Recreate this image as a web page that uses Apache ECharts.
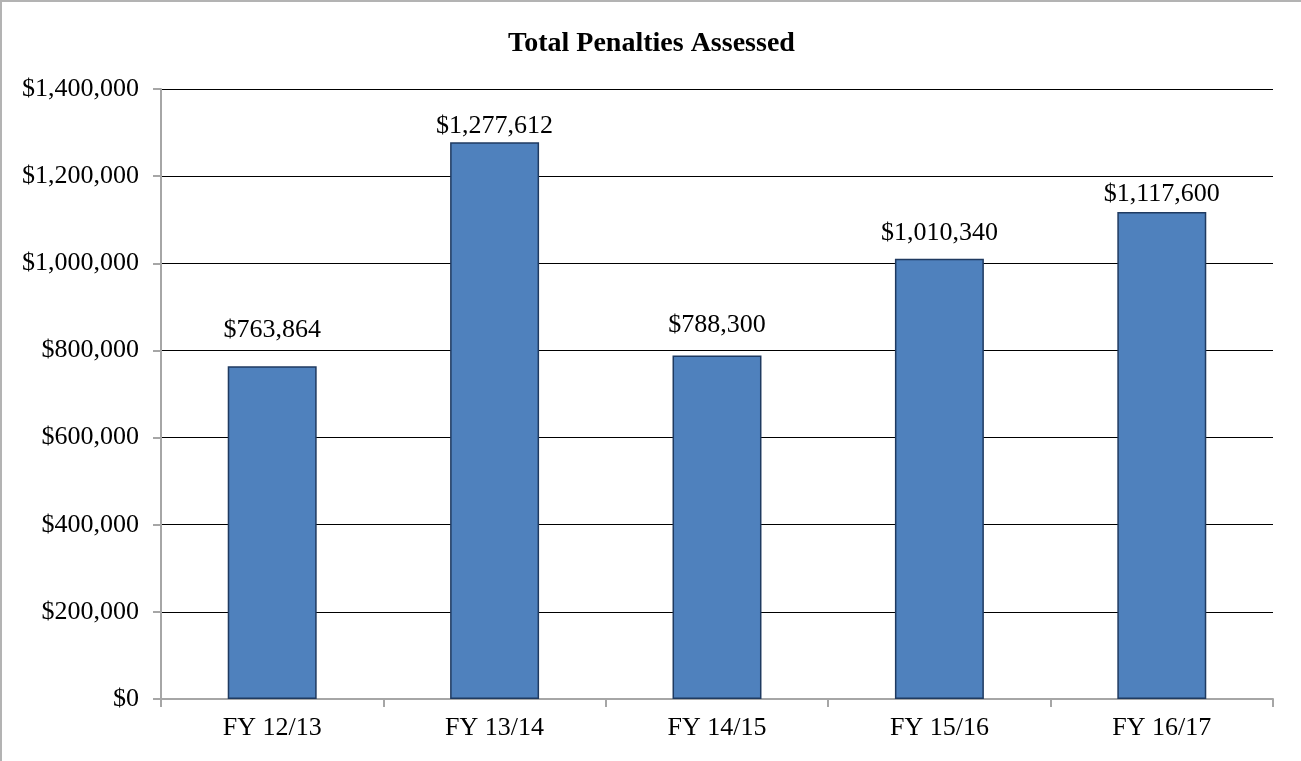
<!DOCTYPE html>
<html>
<head>
<meta charset="utf-8">
<title>Total Penalties Assessed</title>
<script src="https://cdn.jsdelivr.net/npm/echarts@6/dist/echarts.min.js"></script>
<style>
  html, body { margin: 0; padding: 0; background: #fff; }
  #chart { width: 1301px; height: 761px; box-sizing: border-box; border-left: 2px solid #b3b3b3; border-top: 2px solid #b3b3b3; }
</style>
</head>
<body>
<div id="chart"></div>
<script>
const categories = ['FY 12/13', 'FY 13/14', 'FY 14/15', 'FY 15/16', 'FY 16/17']
const penalties = [763864, 1277612, 788300, 1010340, 1117600]
// gap between bar top and its label, as placed in the original
const labelGap = [23, 3, 17, 13, 5]

const money = v => '$' + Number(v).toLocaleString('en-US')
const font = "'Liberation Serif', 'Times New Roman', serif"

const chart = echarts.init(document.getElementById('chart'))
chart.setOption({
  animation: false,
  textStyle: { fontFamily: font },
  graphic: [{
    type: 'text', left: 'center', top: 28,
    style: { text: 'Total Penalties Assessed', font: "bold 28px 'Liberation Serif', serif", fill: '#000' }
  }],
  grid: { left: 159, right: 28, top: 87, bottom: 62, containLabel: false },
  xAxis: {
    type: 'category', data: categories,
    axisLine: { lineStyle: { color: '#a6a6a6', width: 2 } },
    axisTick: { show: true, length: 8, lineStyle: { color: '#a6a6a6', width: 2 } },
    axisLabel: { fontFamily: font, fontSize: 26, color: '#000', margin: 16 }
  },
  yAxis: {
    type: 'value', min: 0, max: 1400000, interval: 200000,
    axisLine: { show: true, lineStyle: { color: '#a6a6a6', width: 2 } },
    axisTick: { show: true, length: 8, lineStyle: { color: '#a6a6a6', width: 2 } },
    splitLine: { lineStyle: { color: '#000', width: 1 } },
    axisLabel: { fontFamily: font, fontSize: 26, color: '#000', margin: 22, formatter: money }
  },
  series: [{
    type: 'bar', barWidth: '40%',
    data: penalties.map((v, i) => ({ value: v, label: { distance: labelGap[i] } })),
    itemStyle: { color: '#4f81bd', borderColor: '#1f3a60', borderWidth: 1.5 },
    label: {
      show: true, position: 'top', fontFamily: font, fontSize: 26, color: '#000',
      formatter: p => money(p.value)
    }
  }]
})
</script>
</body>
</html>
